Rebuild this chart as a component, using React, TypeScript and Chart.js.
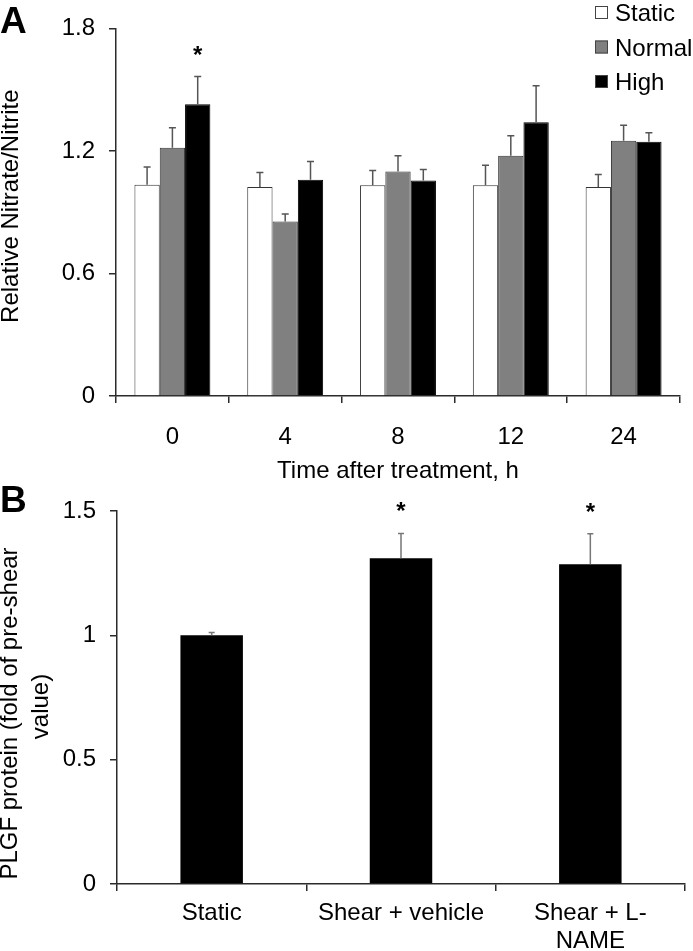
import React, { useEffect, useRef } from 'react';
import { Chart, registerables } from 'chart.js';

Chart.register(...registerables);

const FONT = "'Liberation Sans', Arial, Helvetica, sans-serif";

// ---------- Panel A data ----------
const timeLabels = ['0', '4', '8', '12', '24'];
const seriesNames = ['Static', 'Normal', 'High'];
const staticVals = [1.034, 1.023, 1.032, 1.032, 1.024];
const staticErr = [0.087, 0.071, 0.072, 0.098, 0.06];
const normalVals = [1.216, 0.855, 1.099, 1.176, 1.25];
const normalErr = [0.098, 0.036, 0.077, 0.098, 0.076];
const highVals = [1.429, 1.059, 1.055, 1.34, 1.245];
const highErr = [0.135, 0.089, 0.054, 0.179, 0.044];
const highSig = [true, false, false, false, false];
const yTicksA = [0, 0.6, 1.2, 1.8];
const yTitleA = ['Relative Nitrate/Nitrite'];

// ---------- Panel B data ----------
const treatLabels: (string | string[])[] = ['Static', 'Shear + vehicle', ['Shear + L-', 'NAME']];
const plgfVals = [1.0, 1.31, 1.286];
const plgfErr = [0.011, 0.1, 0.123];
const plgfSig = [false, true, true];
const yTicksB = [0, 0.5, 1, 1.5];
const yTitleB = ['PLGF protein (fold of pre-shear', 'value)'];

const AXIS_COLOR = '#2b2b2b';

const errorBarPlugin = {
  id: 'errorBars',
  afterDatasetsDraw(chart: any, _args: any, opts: any) {
    const { ctx } = chart;
    const yScale = chart.scales.y;
    chart.data.datasets.forEach((ds: any, di: number) => {
      const meta = chart.getDatasetMeta(di);
      if (!ds.errors) return;
      meta.data.forEach((bar: any, i: number) => {
        const v = ds.data[i];
        const e = ds.errors[i];
        const yBase = yScale.getPixelForValue(v);
        const yTop = yScale.getPixelForValue(v + e);
        ctx.save();
        ctx.strokeStyle = opts.color;
        ctx.lineWidth = opts.width;
        ctx.beginPath();
        ctx.moveTo(bar.x, yBase);
        ctx.lineTo(bar.x, yTop);
        ctx.moveTo(bar.x - opts.cap, yTop);
        ctx.lineTo(bar.x + opts.cap, yTop);
        ctx.stroke();
        if (ds.sig && ds.sig[i]) {
          ctx.fillStyle = '#000';
          ctx.font = `bold 24px ${FONT}`;
          ctx.textAlign = 'center';
          ctx.textBaseline = 'alphabetic';
          ctx.fillText('*', bar.x, yTop - opts.starGap);
        }
        ctx.restore();
      });
    });
  },
};

// Panel letter and rotated y-axis title (positioned relative to the y scale)
const panelTextPlugin = {
  id: 'panelText',
  afterDraw(chart: any, _args: any, opts: any) {
    const { ctx } = chart;
    const yScale = chart.scales.y;
    ctx.save();
    ctx.fillStyle = '#000';
    ctx.font = `bold 37px ${FONT}`;
    ctx.textAlign = 'left';
    ctx.textBaseline = 'alphabetic';
    ctx.fillText(opts.letter, 0, opts.letterBaseline);
    ctx.restore();

    const mid = (yScale.top + yScale.bottom) / 2;
    opts.title.forEach((line: string, i: number) => {
      ctx.save();
      ctx.translate(opts.titleX[i], mid + opts.titleShift[i]);
      ctx.rotate(-Math.PI / 2);
      ctx.fillStyle = '#000';
      ctx.font = `24px ${FONT}`;
      ctx.textAlign = 'center';
      ctx.textBaseline = 'middle';
      ctx.fillText(line, 0, 0);
      ctx.restore();
    });
  },
};

const boxLegendPlugin = {
  id: 'boxLegend',
  afterDraw(chart: any, _args: any, opts: any) {
    if (!opts || !opts.display) return;
    const { ctx } = chart;
    ctx.save();
    chart.data.datasets.forEach((ds: any, i: number) => {
      const cy = opts.y + i * opts.rowGap;
      const s = opts.box;
      ctx.fillStyle = ds.backgroundColor;
      ctx.fillRect(opts.x, cy - s / 2, s, s);
      ctx.strokeStyle = '#444';
      ctx.lineWidth = 1;
      ctx.strokeRect(opts.x + 0.5, cy - s / 2 + 0.5, s - 1, s - 1);
      ctx.fillStyle = '#000';
      ctx.font = `24px ${FONT}`;
      ctx.textAlign = 'left';
      ctx.textBaseline = 'alphabetic';
      ctx.fillText(ds.label, opts.x + s + 7, cy + 8.6);
    });
    ctx.restore();
  },
};

function axisCommon() {
  return {
    border: { display: true, color: AXIS_COLOR, width: 1.5 },
    grid: { drawOnChartArea: false, drawTicks: true, tickLength: 7, color: AXIS_COLOR, lineWidth: 1.5 },
  };
}

export default function App() {
  const refA = useRef<HTMLCanvasElement>(null);
  const refB = useRef<HTMLCanvasElement>(null);

  useEffect(() => {
    const chartA = new Chart(refA.current as HTMLCanvasElement, {
      type: 'bar',
      data: {
        labels: timeLabels,
        datasets: [
          { label: seriesNames[0], data: staticVals, errors: staticErr, backgroundColor: '#ffffff', borderColor: '#333', borderWidth: 1 } as any,
          { label: seriesNames[1], data: normalVals, errors: normalErr, backgroundColor: '#808080', borderColor: '#333', borderWidth: 1 } as any,
          { label: seriesNames[2], data: highVals, errors: highErr, sig: highSig, backgroundColor: '#000000', borderColor: '#000', borderWidth: 1 } as any,
        ],
      },
      options: {
        responsive: false,
        animation: false,
        devicePixelRatio: 1,
        layout: { padding: { left: 0, right: 13, top: 27, bottom: 0 } },
        datasets: { bar: { categoryPercentage: 0.673, barPercentage: 1 } },
        plugins: {
          legend: { display: false },
          tooltip: { enabled: false },
          errorBars: { color: '#555', width: 1.5, cap: 3.5, starGap: 14 },
          panelText: { letter: 'A', letterBaseline: 33, title: yTitleA, titleX: [11], titleShift: [-6] },
          boxLegend: { display: true, x: 595, y: 12.5, rowGap: 34.5, box: 13 },
        } as any,
        scales: {
          x: {
            ...axisCommon(),
            ticks: { color: '#000', font: { family: FONT, size: 24 }, padding: 20 },
            title: { display: true, text: 'Time after treatment, h', color: '#000', font: { family: FONT, size: 24 }, padding: 0 },
            afterFit: (s: any) => { s.height = 90; },
          },
          y: {
            ...axisCommon(),
            min: 0,
            max: 1.8,
            afterBuildTicks: (s: any) => { s.ticks = yTicksA.map((v) => ({ value: v })); },
            ticks: { color: '#000', font: { family: FONT, size: 24 }, padding: 14, callback: (v: any) => String(v) },
            afterFit: (s: any) => { s.width = 116; },
          },
        },
      } as any,
      plugins: [errorBarPlugin, panelTextPlugin, boxLegendPlugin],
    });

    const chartB = new Chart(refB.current as HTMLCanvasElement, {
      type: 'bar',
      data: {
        labels: treatLabels as any,
        datasets: [
          { label: 'PLGF', data: plgfVals, errors: plgfErr, sig: plgfSig, backgroundColor: '#000000', borderWidth: 0 } as any,
        ],
      },
      options: {
        responsive: false,
        animation: false,
        devicePixelRatio: 1,
        layout: { padding: { left: 0, right: 8, top: 31, bottom: 0 } },
        datasets: { bar: { categoryPercentage: 0.33, barPercentage: 1 } },
        plugins: {
          legend: { display: false },
          tooltip: { enabled: false },
          errorBars: { color: '#777', width: 1.5, cap: 3, starGap: 14 },
          panelText: { letter: 'B', letterBaseline: 32, title: yTitleB, titleX: [10, 41.5], titleShift: [16, 9] },
          boxLegend: { display: false },
        } as any,
        scales: {
          x: {
            ...axisCommon(),
            ticks: { color: '#000', font: { family: FONT, size: 24, lineHeight: 1.15 }, padding: 9, maxRotation: 0, autoSkip: false },
            afterFit: (s: any) => { s.height = 67; },
          },
          y: {
            ...axisCommon(),
            min: 0,
            max: 1.5,
            afterBuildTicks: (s: any) => { s.ticks = yTicksB.map((v) => ({ value: v })); },
            ticks: { color: '#000', font: { family: FONT, size: 24 }, padding: 14, callback: (v: any) => String(v) },
            afterFit: (s: any) => { s.width = 117; },
          },
        },
      } as any,
      plugins: [errorBarPlugin, panelTextPlugin, boxLegendPlugin],
    });

    return () => {
      chartA.destroy();
      chartB.destroy();
    };
  }, []);

  return (
    <div style={{ position: 'absolute', left: 0, top: 0, width: 693, height: 951, background: '#fff' }}>
      <canvas ref={refA} width={693} height={486} style={{ position: 'absolute', left: 0, top: 0, width: 693, height: 486 }} />
      <canvas ref={refB} width={693} height={471} style={{ position: 'absolute', left: 0, top: 480, width: 693, height: 471 }} />
    </div>
  );
}
